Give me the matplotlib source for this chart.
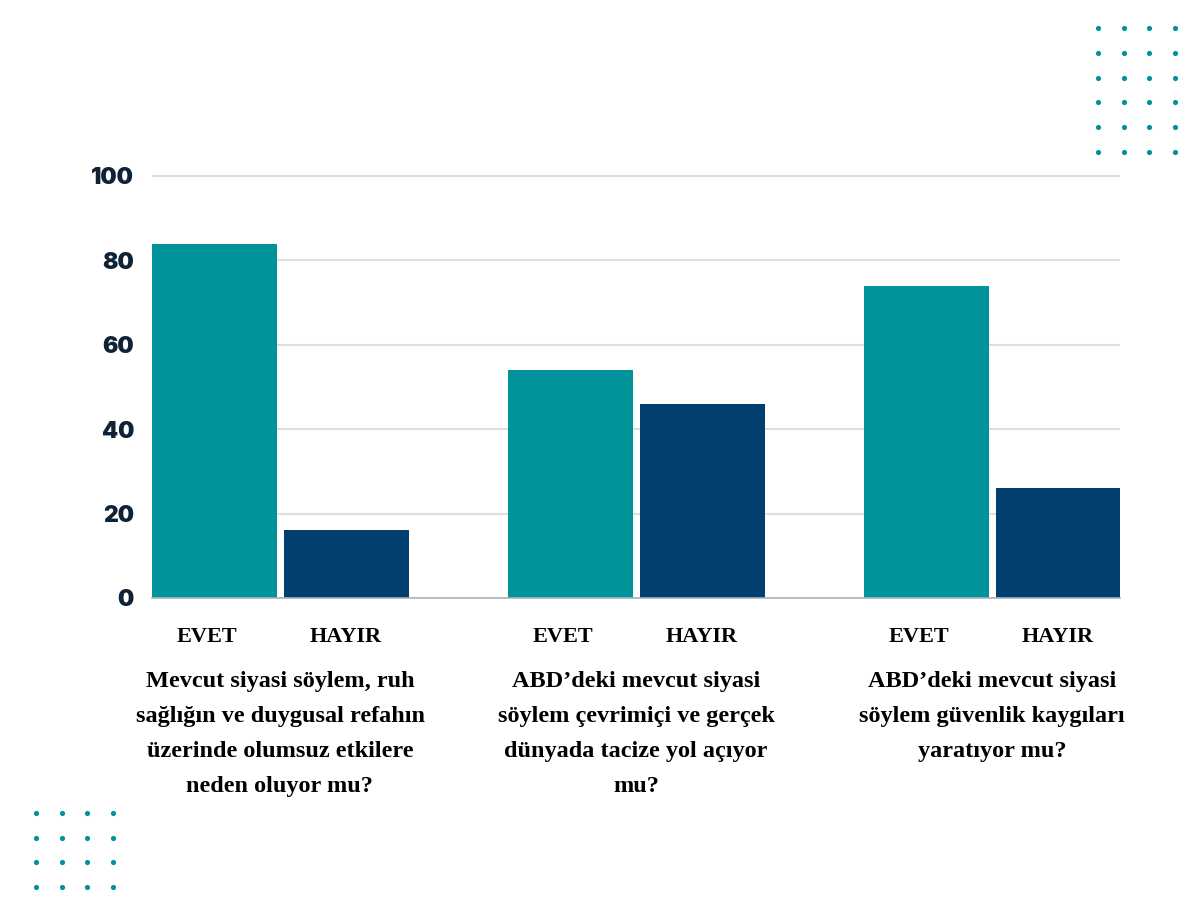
import matplotlib
matplotlib.use("Agg")
import matplotlib.pyplot as plt
import matplotlib.transforms as mtransforms
import numpy as np

# ---- data ----
questions = [
    "Mevcut siyasi söylem, ruh\nsağlığın ve duygusal refahın\nüzerinde olumsuz etkilere\nneden oluyor mu?",
    "ABD’deki mevcut siyasi\nsöylem çevrimiçi ve gerçek\ndünyada tacize yol açıyor\nmu?",
    "ABD’deki mevcut siyasi\nsöylem güvenlik kaygıları\nyaratıyor mu?",
]
answer_labels = ["EVET", "HAYIR"]
evet = [84, 54, 74]
hayir = [16, 46, 26]
y_ticks = [0, 20, 40, 60, 80, 100]

TEAL = "#00939a"
NAVY = "#013f71"
TICK_COLOR = "#0f2236"

W, H = 1200, 900
fig = plt.figure(figsize=(12, 9), dpi=100)
fig.patch.set_facecolor("white")

# axes placement (pixels)
left_px, right_px = 152, 1120
y0_px, y100_px = 598, 176
ymax = 101
top_px = y0_px - (y0_px - y100_px) * ymax / 100
ax = fig.add_axes([left_px / W, (H - y0_px) / H,
                   (right_px - left_px) / W, (y0_px - top_px) / H])

x = np.arange(len(questions))
unit = 356.0
bw = 125 / unit
off = 66 / unit
ax.bar(x - off, evet, width=bw, color=TEAL, zorder=3)
ax.bar(x + off, hayir, width=bw, color=NAVY, zorder=3)

ax.set_xlim((left_px - 280) / unit, (right_px - 280) / unit)
ax.set_ylim(0, ymax)
ax.set_yticks(y_ticks)
ax.set_yticklabels([str(t) for t in y_ticks], fontsize=16.5, fontweight=900,
                   family=["Inter", "DejaVu Sans"], color=TICK_COLOR)
ax.tick_params(axis="y", length=0, pad=13)
ax.set_xticks([])
for s in ["top", "right", "left"]:
    ax.spines[s].set_visible(False)
ax.spines["bottom"].set_color("#a9b3bc")
ax.spines["bottom"].set_linewidth(1.2)
ax.spines["bottom"].set_zorder(4)
ax.grid(axis="y", color="#dcdfe2", linewidth=1.5, zorder=0)
ax.set_axisbelow(True)

blend = mtransforms.blended_transform_factory(ax.transData, fig.transFigure)
serif = ["Liberation Serif", "DejaVu Serif"]
for i in x:
    ax.text(i - off - 7 / unit, (H - 637) / H, answer_labels[0], transform=blend,
            ha="center", va="center", fontsize=16, fontweight="bold",
            family=serif, color="black")
    ax.text(i + off, (H - 637) / H, answer_labels[1], transform=blend,
            ha="center", va="center", fontsize=16, fontweight="bold",
            family=serif, color="black")
    ax.text(i, (H - 671) / H, questions[i], transform=blend,
            ha="center", va="top", fontsize=17.5, fontweight="bold",
            family=serif, color="black", linespacing=1.87, multialignment="center")

# decorative dot grids
deco = fig.add_axes([0, 0, 1, 1], zorder=-1)
deco.set_xlim(0, W)
deco.set_ylim(H, 0)
deco.axis("off")
gx, gy = np.meshgrid(1098 + 25.5 * np.arange(4), 28 + 24.8 * np.arange(6))
deco.scatter(gx.ravel(), gy.ravel(), s=14, color=TEAL, linewidths=0)
bx, by = np.meshgrid(36 + 25.6 * np.arange(4), 813 + 24.7 * np.arange(4))
deco.scatter(bx.ravel(), by.ravel(), s=14, color=TEAL, linewidths=0)

fig.savefig("out.png", dpi=100, facecolor="white")
